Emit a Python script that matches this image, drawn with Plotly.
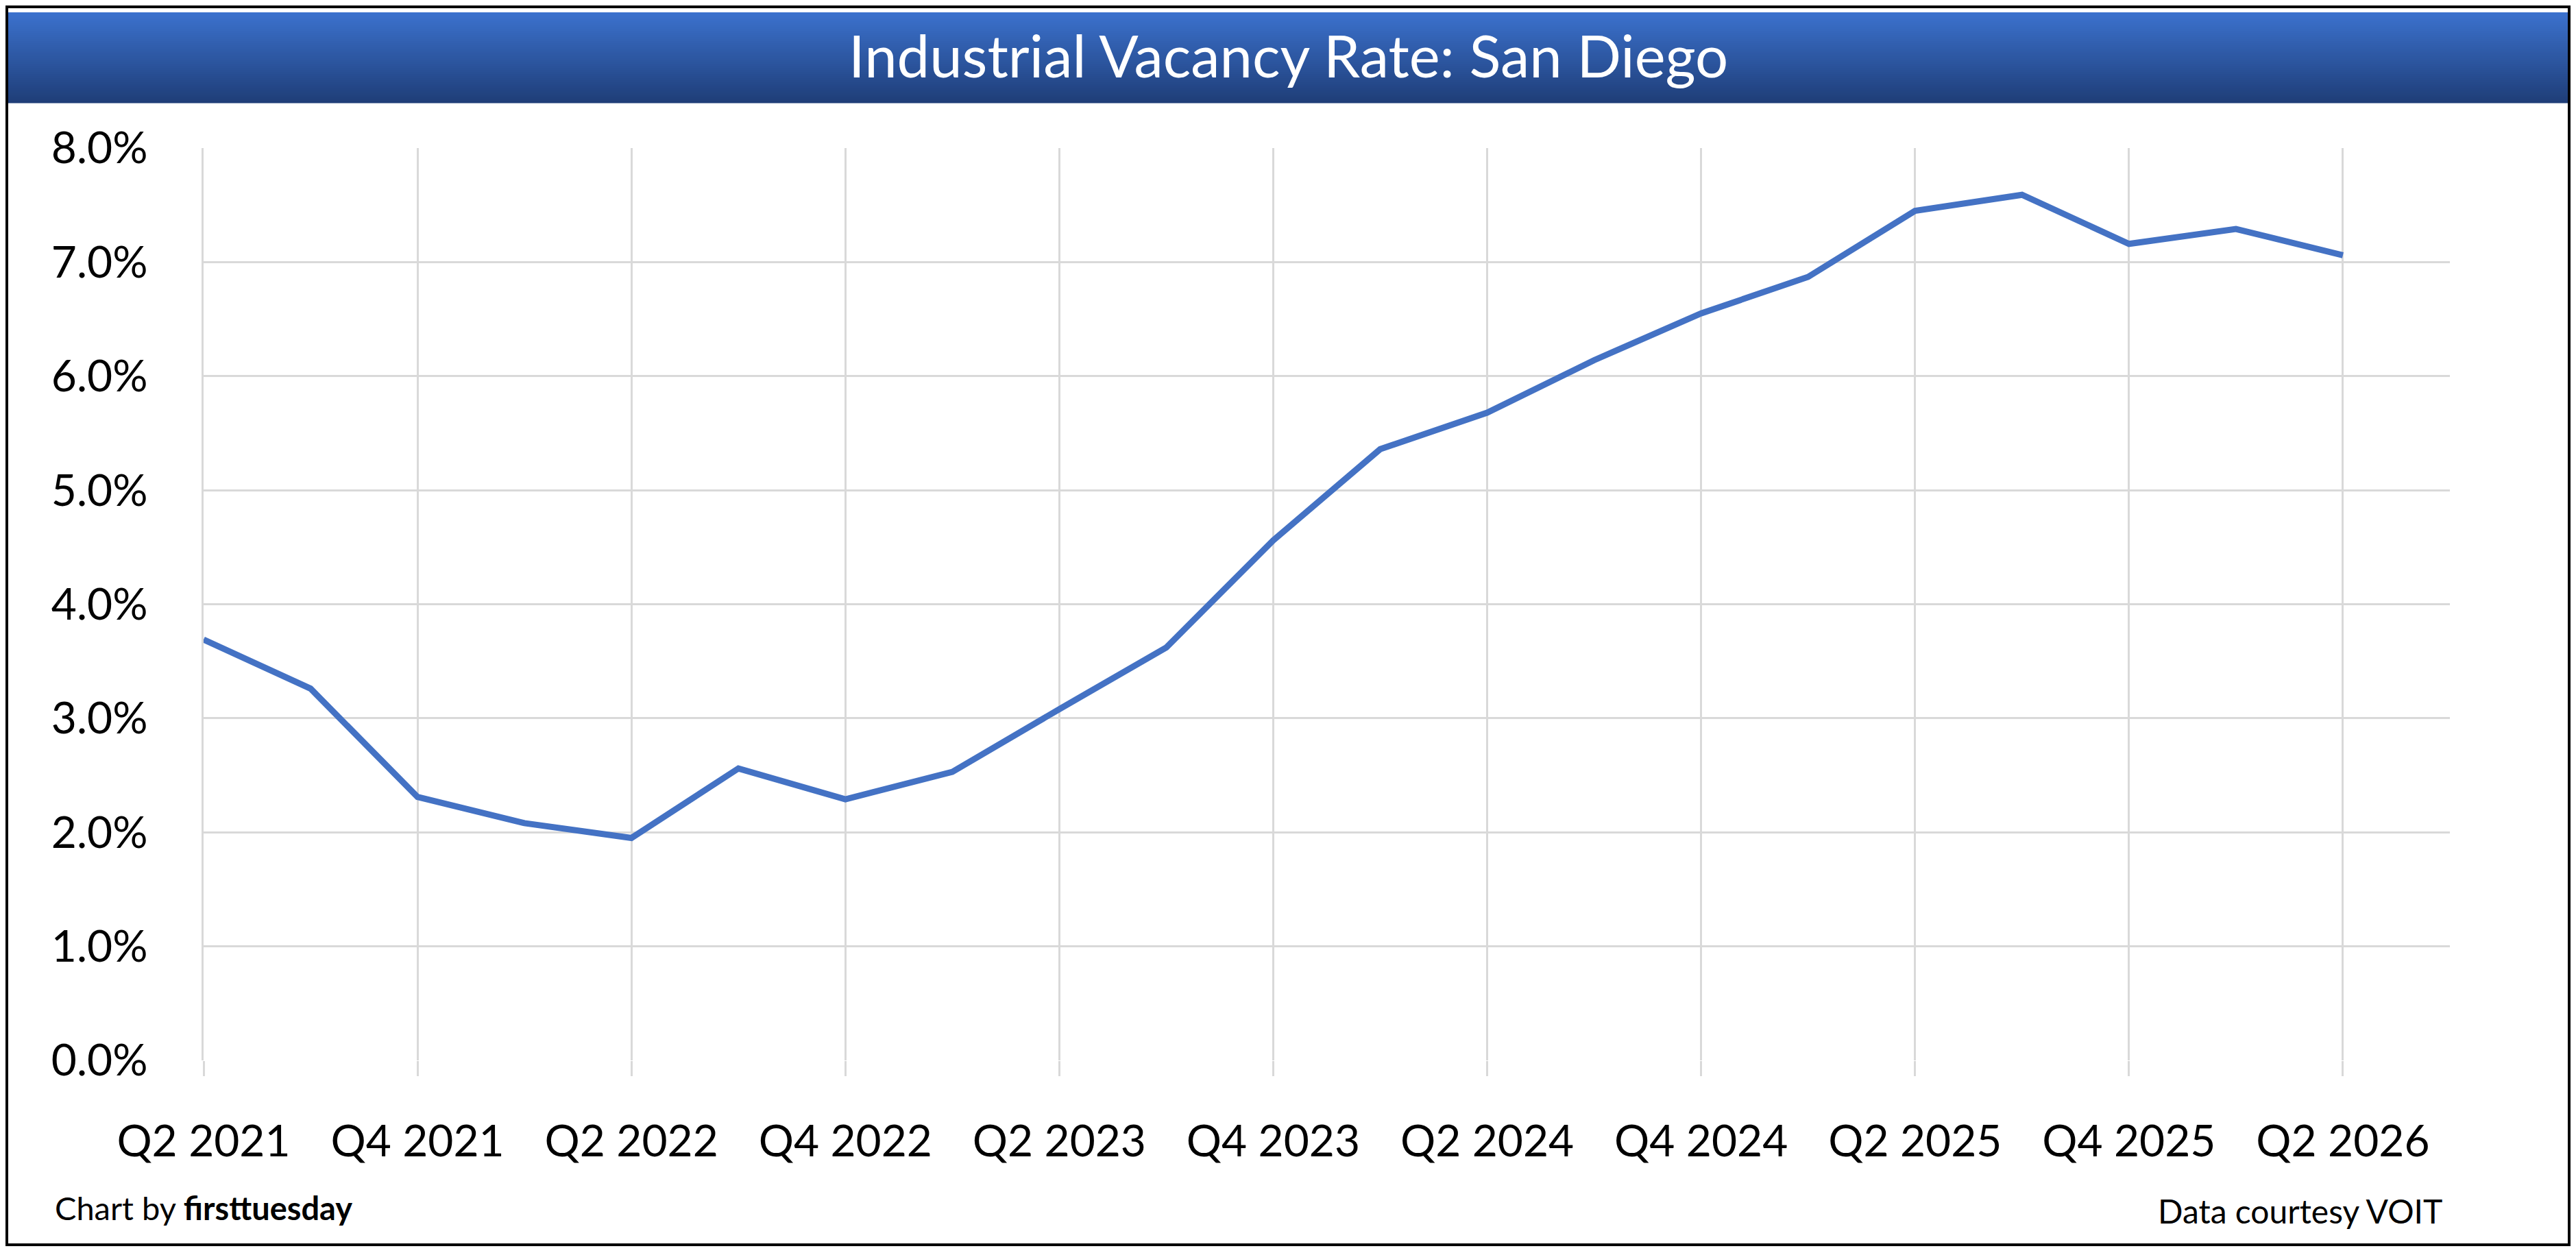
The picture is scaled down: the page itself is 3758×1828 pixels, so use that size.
import plotly.graph_objects as go

# ---- data ----
quarters = ["Q2 2021", "Q3 2021", "Q4 2021", "Q1 2022", "Q2 2022", "Q3 2022", "Q4 2022",
            "Q1 2023", "Q2 2023", "Q3 2023", "Q4 2023", "Q1 2024", "Q2 2024", "Q3 2024",
            "Q4 2024", "Q1 2025", "Q2 2025", "Q3 2025", "Q4 2025", "Q1 2026", "Q2 2026"]
vacancy_rate = [3.69, 3.26, 2.31, 2.08, 1.95, 2.56, 2.29, 2.53, 3.08, 3.62, 4.56, 5.36,
                5.68, 6.14, 6.55, 6.87, 7.45, 7.59, 7.16, 7.29, 7.06]
y_ticks = [0, 1, 2, 3, 4, 5, 6, 7, 8]
title_text = "Industrial Vacancy Rate: San Diego"
credit_left = "Chart by <b>firsttuesday</b>"
credit_right = "Data courtesy VOIT"

# ---- layout geometry (page pixels) ----
OFF = 8                      # default page body margin
W, H = 3758 - 2 * OFF, 1828 - 2 * OFF
L, R, T, B = 297 - OFF, 3574 - OFF, 216 - OFF, 1547 - OFF
FONT = "Lato"

idx = list(range(len(quarters)))
tick_idx = idx[::2]
tick_txt = quarters[::2]


def px(xp):
    return (xp - OFF - L) / (R - L)


def py(yp):
    return (B - (yp - OFF)) / (B - T)


fig = go.Figure()
fig.add_trace(go.Scatter(
    x=idx, y=vacancy_rate, mode="lines",
    line=dict(color="#4472C4", width=9),
    hoverinfo="skip", showlegend=False,
))

shapes = []
# title band gradient
band_top, band_bot = 18, 150
n = 44
c_top = (59, 113, 205)
c_bot = (31, 62, 120)
step = (band_bot - band_top) / n
for i in range(n):
    t = i / (n - 1)
    c = tuple(int(round(c_top[k] + (c_bot[k] - c_top[k]) * t)) for k in range(3))
    y0 = band_top + i * step
    y1 = y0 + step + 0.6
    shapes.append(dict(type="rect", xref="paper", yref="paper",
                       x0=px(8), x1=px(3749), y0=py(y1), y1=py(y0),
                       fillcolor="rgb(%d,%d,%d)" % c, line=dict(width=0), layer="above"))
# outer border
shapes.append(dict(type="rect", xref="paper", yref="paper",
                   x0=px(10), x1=px(3748), y0=py(1816), y1=py(10),
                   fillcolor="rgba(0,0,0,0)", line=dict(color="black", width=4), layer="above"))

annotations = [
    dict(text=title_text, xref="paper", yref="paper", x=px(1879), y=py(80),
         xanchor="center", yanchor="middle", showarrow=False,
         font=dict(family=FONT, size=85, color="white")),
    dict(text=credit_left, xref="paper", yref="paper", x=px(78), y=py(1762),
         xanchor="left", yanchor="middle", showarrow=False,
         font=dict(family=FONT, size=47, color="black")),
    dict(text=credit_right, xref="paper", yref="paper", x=px(3565), y=py(1767),
         xanchor="right", yanchor="middle", showarrow=False,
         font=dict(family=FONT, size=48, color="black")),
]

fig.update_layout(
    width=W, height=H,
    margin=dict(l=L, r=W - R, t=T, b=H - B, pad=0),
    paper_bgcolor="white", plot_bgcolor="white",
    shapes=shapes, annotations=annotations,
    font=dict(family=FONT, color="black"),
    xaxis=dict(range=[0, len(quarters)], tickmode="array", tickvals=tick_idx, ticktext=tick_txt,
               showgrid=True, gridcolor="#D9D9D9", gridwidth=2.5,
               ticks="outside", ticklen=22, tickwidth=2.5, tickcolor="#D9D9D9",
               ticklabelstandoff=40,
               tickfont=dict(family=FONT, size=64, color="black"),
               zeroline=False, showline=False, fixedrange=True),
    yaxis=dict(range=[0, 8], tickmode="array", tickvals=y_ticks,
               ticktext=["%.1f%%" % v for v in y_ticks],
               showgrid=True, gridcolor="#D9D9D9", gridwidth=3,
               showline=True, linecolor="#D9D9D9", linewidth=2.5,
               ticks="", ticklabelstandoff=66,
               tickfont=dict(family=FONT, size=64, color="black"),
               zeroline=False, fixedrange=True),
)

fig.write_html("out.html")
